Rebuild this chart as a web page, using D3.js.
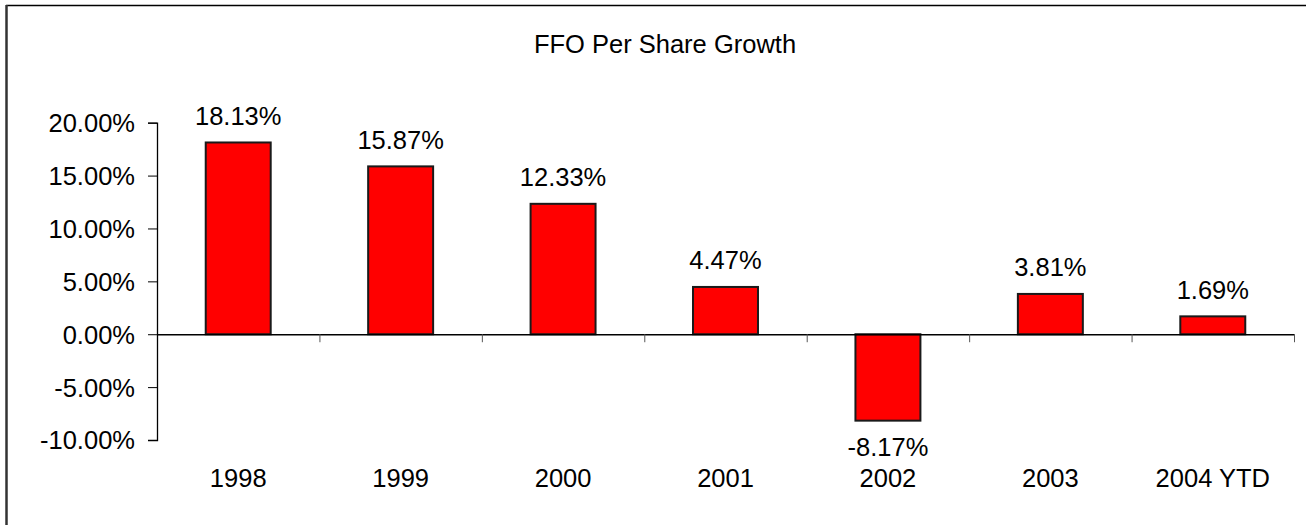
<!DOCTYPE html>
<html>
<head>
<meta charset="utf-8">
<script src="https://cdn.jsdelivr.net/npm/d3@7"></script>
<style>
  body { margin: 0; background: #fff; }
  svg { display: block; font-family: "Liberation Sans", Arial, sans-serif; }
</style>
</head>
<body>
<svg id="chart" width="1306" height="525"></svg>
<script>
// chart data
var categories = ["1998", "1999", "2000", "2001", "2002", "2003", "2004 YTD"];
var growth = [18.13, 15.87, 12.33, 4.47, -8.17, 3.81, 1.69];
var yTicks = [-10, -5, 0, 5, 10, 15, 20];
var title = "FFO Per Share Growth";

var svg = d3.select("#chart");

var plotLeft = 157, plotRight = 1294, plotTop = 122.7, plotBottom = 440;
var fontSize = "25.5px";

var x = d3.scaleBand()
    .domain(categories)
    .range([plotLeft, plotRight])
    .paddingInner(0.6)
    .paddingOuter(0.3);

var y = d3.scaleLinear()
    .domain([-10, 20])
    .range([plotBottom, plotTop]);

// frame (only top and left edges are visible in the crop)
svg.append("line")
    .attr("x1", 6).attr("x2", 1306).attr("y1", 5.5).attr("y2", 5.5)
    .attr("stroke", "#000").attr("stroke-width", 1.5);
svg.append("line")
    .attr("x1", 6.5).attr("x2", 6.5).attr("y1", 5).attr("y2", 525)
    .attr("stroke", "#333").attr("stroke-width", 2.5);

// title
svg.append("text")
    .attr("x", 665)
    .attr("y", 53)
    .attr("text-anchor", "middle")
    .style("font-size", fontSize)
    .style("fill", "#000")
    .text(title);

// y axis
var yAxis = svg.append("g")
    .attr("transform", "translate(" + plotLeft + ",0)")
    .call(d3.axisLeft(y)
        .tickValues(yTicks)
        .tickSize(9)
        .tickPadding(13)
        .tickFormat(function (d) { return d.toFixed(2) + "%"; }));
yAxis.select(".domain").attr("stroke", "#000").attr("stroke-width", 1.3);
yAxis.selectAll(".tick line").attr("stroke", "#000");
yAxis.selectAll(".tick text")
    .style("font-size", fontSize)
    .style("font-family", "'Liberation Sans', Arial, sans-serif")
    .style("fill", "#000")
    .attr("dy", "0.35em");

// bars
svg.append("g")
    .attr("class", "bars")
    .selectAll("rect")
    .data(growth)
    .enter()
    .append("rect")
    .attr("x", function (d, i) { return x(categories[i]); })
    .attr("width", x.bandwidth())
    .attr("y", function (d) { return y(Math.max(0, d)); })
    .attr("height", function (d) { return Math.abs(y(d) - y(0)); })
    .attr("fill", "#ff0000")
    .attr("stroke", "#1a1a1a")
    .attr("stroke-width", 2);

// x axis line with ticks between categories
var xEdges = d3.scaleLinear().domain([0, categories.length]).range([plotLeft, plotRight]);
var xAxis = svg.append("g")
    .attr("transform", "translate(0," + y(0) + ")")
    .call(d3.axisBottom(xEdges)
        .tickValues(d3.range(1, categories.length + 1))
        .tickSize(8)
        .tickSizeOuter(0)
        .tickFormat(""));
xAxis.select(".domain").attr("stroke", "#000").attr("stroke-width", 1.3);
xAxis.selectAll(".tick line").attr("stroke", "#555");

// category labels
svg.append("g")
    .selectAll("text")
    .data(categories)
    .enter()
    .append("text")
    .attr("x", function (d) { return x(d) + x.bandwidth() / 2; })
    .attr("y", 487)
    .attr("text-anchor", "middle")
    .style("font-size", fontSize)
    .style("fill", "#000")
    .text(function (d) { return d; });

// value labels
svg.append("g")
    .selectAll("text")
    .data(growth)
    .enter()
    .append("text")
    .attr("x", function (d, i) { return x(categories[i]) + x.bandwidth() / 2; })
    .attr("y", function (d) { return d >= 0 ? y(d) - 17.5 : y(d) + 35; })
    .attr("text-anchor", "middle")
    .style("font-size", fontSize)
    .style("fill", "#000")
    .text(function (d) { return d.toFixed(2) + "%"; });
</script>
</body>
</html>
